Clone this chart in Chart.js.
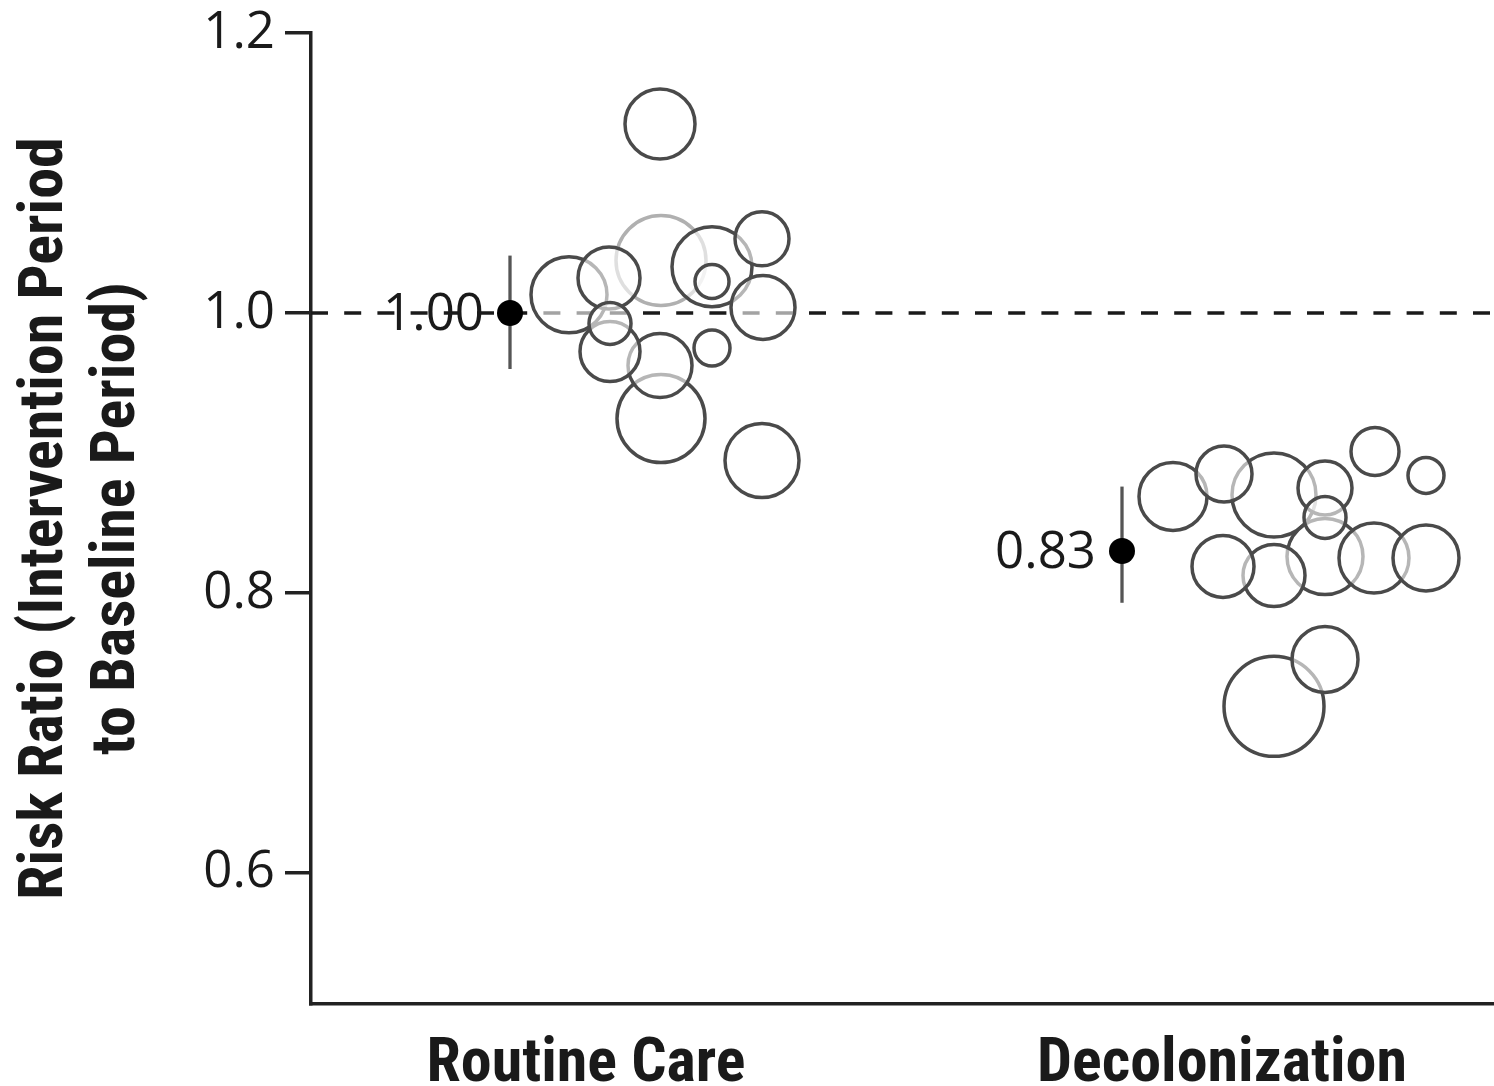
<!DOCTYPE html>
<html>
<head>
<meta charset="utf-8">
<script src="https://cdn.jsdelivr.net/npm/chart.js@4.4.1/dist/chart.umd.min.js"></script>
<style>
  html, body { margin: 0; padding: 0; background: #ffffff; }
  #wrap { width: 1494px; height: 1086px; }
</style>
</head>
<body>
<div id="wrap"><canvas id="c" width="1494" height="1086"></canvas></div>
<script>
// ---------------- data ----------------
const CATEGORIES = ['Routine Care', 'Decolonization'];
const CATEGORY_X = [2.75, 9.11];            // strip positions of the group labels
const Y_TICKS = [0.6, 0.8, 1.0, 1.2];
const REFERENCE_RR = 1.0;

const MEAN_X = [1.99, 8.11];
const MEAN_RR = [1.00, 0.83];
const CI_LOW = [0.960, 0.793];
const CI_HIGH = [1.041, 0.876];

// Routine care: hospital-level risk ratios (strip x, ratio, bubble size)
const ROUTINE_X  = [3.50, 3.50, 3.49, 2.99, 2.58, 2.98, 2.99, 4.01, 4.01, 4.52, 4.51, 4.01, 3.49, 4.51];
const ROUTINE_RR = [1.0375, 0.9246, 0.9625, 0.9725, 1.013, 1.025, 0.9925, 1.033, 1.0225, 1.004, 1.053, 0.975, 1.135, 0.8946];
const ROUTINE_R  = [45, 44, 32, 30, 38, 31, 21, 40, 17, 32, 27, 18, 35, 37];

// Decolonization: hospital-level risk ratios
const DECOL_X  = [8.62, 9.63, 9.13, 10.14, 10.14, 9.63, 9.12, 10.63, 11.15, 10.14, 10.64, 11.15, 9.63, 10.14];
const DECOL_RR = [0.869, 0.870, 0.885, 0.875, 0.826, 0.8125, 0.819, 0.825, 0.825, 0.854, 0.901, 0.884, 0.719, 0.7525];
const DECOL_R  = [34, 42, 28, 27, 38, 31, 31, 35, 33, 21, 24, 18, 50, 33];

// ---------------- chart ----------------
const NUM_FONT = "'Open Sans', 'Liberation Sans', sans-serif";
const BOLD_FONT = "'Roboto Condensed', 'Liberation Sans', sans-serif";
const TEXT_COLOR = '#1a1a1a';

const toPoints = (xs, ys, rs) => xs.map((x, i) => ({ x: x, y: ys[i], r: rs ? rs[i] : undefined }));

const overlay = {
  id: 'overlay',
  beforeDatasetsDraw(chart) {
    const { ctx, chartArea, scales: { x, y } } = chart;
    ctx.save();
    const yr = y.getPixelForValue(REFERENCE_RR);
    ctx.strokeStyle = '#1a1a1a';
    ctx.lineWidth = 3.3;
    ctx.setLineDash([17, 16.2]);
    ctx.beginPath();
    ctx.moveTo(chartArea.left, yr);
    ctx.lineTo(chartArea.right, yr);
    ctx.stroke();
    ctx.setLineDash([]);
    ctx.strokeStyle = '#555555';
    ctx.lineWidth = 3.3;
    MEAN_X.forEach((mx, i) => {
      const px = x.getPixelForValue(mx);
      ctx.beginPath();
      ctx.moveTo(px, y.getPixelForValue(CI_LOW[i]));
      ctx.lineTo(px, y.getPixelForValue(CI_HIGH[i]));
      ctx.stroke();
    });
    ctx.restore();
  },
  afterDatasetsDraw(chart) {
    const { ctx, scales: { x, y } } = chart;
    ctx.save();
    ctx.font = '51px ' + NUM_FONT;
    ctx.fillStyle = TEXT_COLOR;
    ctx.textAlign = 'right';
    ctx.textBaseline = 'middle';
    MEAN_X.forEach((mx, i) => {
      ctx.fillText(MEAN_RR[i].toFixed(2), x.getPixelForValue(mx) - 26, y.getPixelForValue(MEAN_RR[i]) + 2);
    });
    ctx.restore();
  }
};

const bubbleStyle = {
  type: 'bubble',
  backgroundColor: 'rgba(255,255,255,0.6)',
  borderWidth: 3.5,
  radius: 0,
  hoverRadius: 0
};

const noScalePadding = (s) => { s.paddingTop = 0; s.paddingBottom = 0; s.paddingLeft = 0; s.paddingRight = 0; };

new Chart(document.getElementById('c'), {
  type: 'bubble',
  data: {
    datasets: [
      {
        label: 'Mean',
        data: toPoints(MEAN_X, MEAN_RR),
        radius: 13,
        backgroundColor: '#000000',
        borderColor: '#000000',
        borderWidth: 0
      },
      Object.assign({}, bubbleStyle, {
        label: CATEGORIES[0],
        data: toPoints(ROUTINE_X, ROUTINE_RR, ROUTINE_R),
        borderColor: (c) => (c.dataIndex === 0 ? '#b0b0b0' : '#4a4a4a')
      }),
      Object.assign({}, bubbleStyle, {
        label: CATEGORIES[1],
        data: toPoints(DECOL_X, DECOL_RR, DECOL_R),
        borderColor: '#4a4a4a'
      })
    ]
  },
  options: {
    responsive: false,
    animation: false,
    events: [],
    layout: { autoPadding: false, padding: { top: 33, left: 0, right: 0, bottom: 0 } },
    plugins: { legend: { display: false }, tooltip: { enabled: false } },
    scales: {
      x: {
        type: 'linear',
        min: 0,
        max: 11.83,
        afterBuildTicks: (s) => { s.ticks = CATEGORY_X.map(v => ({ value: v })); },
        afterFit: (s) => { s.height = 82; noScalePadding(s); },
        grid: { display: false },
        border: { display: true, color: '#222222', width: 3.5 },
        ticks: {
          autoSkip: false,
          maxRotation: 0,
          padding: 16,
          color: TEXT_COLOR,
          font: { family: BOLD_FONT, weight: 'bold', size: 62 },
          callback: (v, i) => CATEGORIES[i]
        }
      },
      y: {
        type: 'linear',
        min: 0.5064,
        max: 1.2,
        afterBuildTicks: (s) => { s.ticks = Y_TICKS.map(v => ({ value: v })); },
        afterFit: (s) => { s.width = 311; noScalePadding(s); },
        grid: {
          display: true,
          drawOnChartArea: false,
          drawTicks: true,
          tickLength: 26,
          tickWidth: 3.5,
          tickColor: '#222222',
          lineWidth: 3.5,
          color: '#222222'
        },
        border: { display: true, color: '#222222', width: 3.5 },
        ticks: {
          padding: 10,
          color: TEXT_COLOR,
          font: { family: NUM_FONT, size: 51 },
          callback: (v) => Number(v).toFixed(1)
        },
        title: {
          display: true,
          text: ['Risk Ratio (Intervention Period', 'to Baseline Period)'],
          color: TEXT_COLOR,
          padding: { top: 11, bottom: 0 },
          font: { family: BOLD_FONT, weight: 'bold', size: 62, lineHeight: 1.16 }
        }
      }
    }
  },
  plugins: [overlay]
});
</script>
</body>
</html>
